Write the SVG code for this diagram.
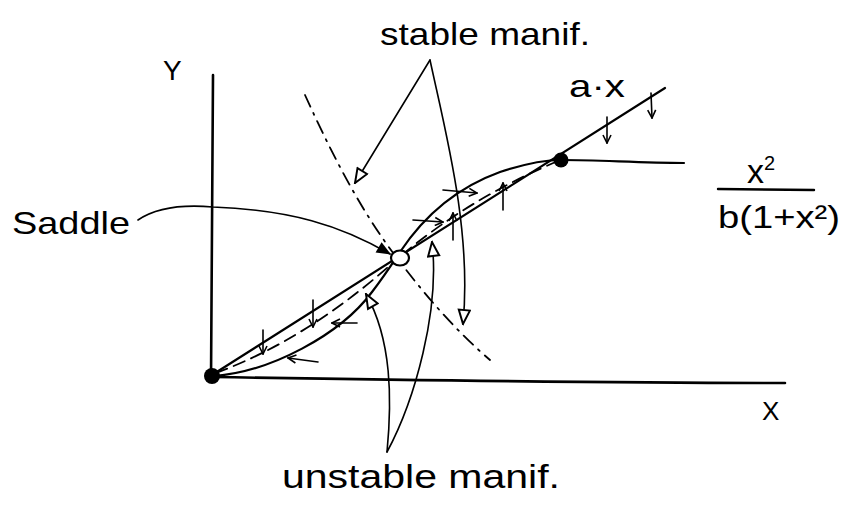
<svg xmlns="http://www.w3.org/2000/svg" width="851" height="510" viewBox="0 0 851 510">
<style>
  .ink{fill:none;stroke:#000;stroke-linecap:round;stroke-linejoin:round}
  .axis{stroke-width:2.6}
  .curve{stroke-width:2.2}
  .thin{stroke-width:1.6}
  .dash{stroke-width:1.8;stroke-dasharray:12 7}
  .dashdot{stroke-width:1.8;stroke-dasharray:13 7 2 7}
  .lbl{font-family:"Liberation Sans","DejaVu Sans",sans-serif;fill:#000}
</style>
<defs>
  <marker id="tri" viewBox="0 0 12 10" refX="11" refY="5" markerWidth="17" markerHeight="14" markerUnits="userSpaceOnUse" orient="auto">
    <path d="M1,1 L11,5 L1,9 Z" fill="#fff" stroke="#000" stroke-width="1.4"/>
  </marker>
  <marker id="solid" viewBox="0 0 12 10" refX="11" refY="5" markerWidth="15" markerHeight="12" markerUnits="userSpaceOnUse" orient="auto">
    <path d="M0,0 L12,5 L0,10 Z" fill="#000"/>
  </marker>
  <marker id="vee" viewBox="0 0 10 10" refX="9" refY="5" markerWidth="10" markerHeight="10" markerUnits="userSpaceOnUse" orient="auto">
    <path d="M1,1 L9,5 L1,9" fill="none" stroke="#000" stroke-width="1.6"/>
  </marker>
</defs>

<g id="axes">
  <path class="ink axis" d="M213,75 C212,200 211,300 211,380"/>
  <path class="ink axis" d="M212,377 C400,380 600,383 785,383"/>
  <text class="lbl" x="163" y="80" font-size="28">Y</text>
  <text class="lbl" x="762" y="420" font-size="26">X</text>
</g>

<g id="curves">
  <path id="line-ax" class="ink curve" d="M212,375 L665,88"/>
  <path id="sigmoid" class="ink curve" d="M214,376 C270,372 340,335 372,292 C385,275 392,264 400,252 C420,222 450,190 500,172 C530,162 550,160 562,160 C600,160 640,163 684,163"/>
  <path class="ink dash" d="M216,373 Q310,338 397,259"/>
  <path class="ink dash" d="M402,255 Q470,198 558,161"/>
  <path id="stable-manifold" class="ink dashdot" d="M305,95 C330,150 360,210 397,258 C425,295 455,330 490,360"/>
</g>

<g id="flow-arrows">
  <path class="ink thin" d="M607,117 L607,143" marker-end="url(#vee)"/>
  <path class="ink thin" d="M651,93 L652,118" marker-end="url(#vee)"/>
  <path class="ink thin" d="M313,300 L313,327" marker-end="url(#vee)"/>
  <path class="ink thin" d="M263,330 L263,354" marker-end="url(#vee)"/>
  <path class="ink thin" d="M503,210 L503,183" marker-end="url(#vee)"/>
  <path class="ink thin" d="M453,240 L453,213" marker-end="url(#vee)"/>
  <path class="ink thin" d="M443,190 L477,193" marker-end="url(#vee)"/>
  <path class="ink thin" d="M413,220 L443,222" marker-end="url(#vee)"/>
  <path class="ink thin" d="M357,323 L332,323" marker-end="url(#vee)"/>
  <path class="ink thin" d="M318,362 L288,358" marker-end="url(#vee)"/>
</g>

<g id="node-origin"><circle cx="212" cy="376" r="8" fill="#000"/></g>
<g id="node-saddle"><ellipse cx="400" cy="258" rx="9" ry="7.5" fill="#fff" stroke="#000" stroke-width="2.2"/></g>
<g id="node-upper"><circle cx="561" cy="160" r="7.5" fill="#000"/></g>

<g id="connectors">
  <path class="ink thin" d="M138,220 C160,205 190,205 213,207 C290,210 340,225 390,254" marker-end="url(#solid)"/>
  <path class="ink thin" d="M430,60 L355,183" marker-end="url(#tri)"/>
  <path class="ink thin" d="M430,60 C445,130 472,230 463,324" marker-end="url(#tri)"/>
  <path class="ink thin" d="M387,452 C392,400 392,340 366,294" marker-end="url(#tri)"/>
  <path class="ink thin" d="M387,452 C415,400 440,310 432,242" marker-end="url(#tri)"/>
</g>

<g id="label-stable"><text class="lbl" x="380" y="45" font-size="32" textLength="210" lengthAdjust="spacingAndGlyphs">stable manif.</text></g>
<g id="label-saddle"><text class="lbl" x="12" y="234" font-size="32" textLength="118" lengthAdjust="spacingAndGlyphs">Saddle</text></g>
<g id="label-unstable"><text class="lbl" x="282" y="488" font-size="34" textLength="278" lengthAdjust="spacingAndGlyphs">unstable manif.</text></g>
<g id="label-ax"><text class="lbl" x="569" y="97" font-size="32" textLength="56" lengthAdjust="spacingAndGlyphs">a·x</text></g>
<g id="label-fraction">
  <text class="lbl" x="747" y="183" font-size="34">x<tspan dy="-13" font-size="20">2</tspan></text>
  <path class="ink" stroke-width="2.4" d="M718,189 L814,190"/>
  <text class="lbl" x="718" y="228" font-size="32" textLength="122" lengthAdjust="spacingAndGlyphs">b(1+x²)</text>
</g>
</svg>
